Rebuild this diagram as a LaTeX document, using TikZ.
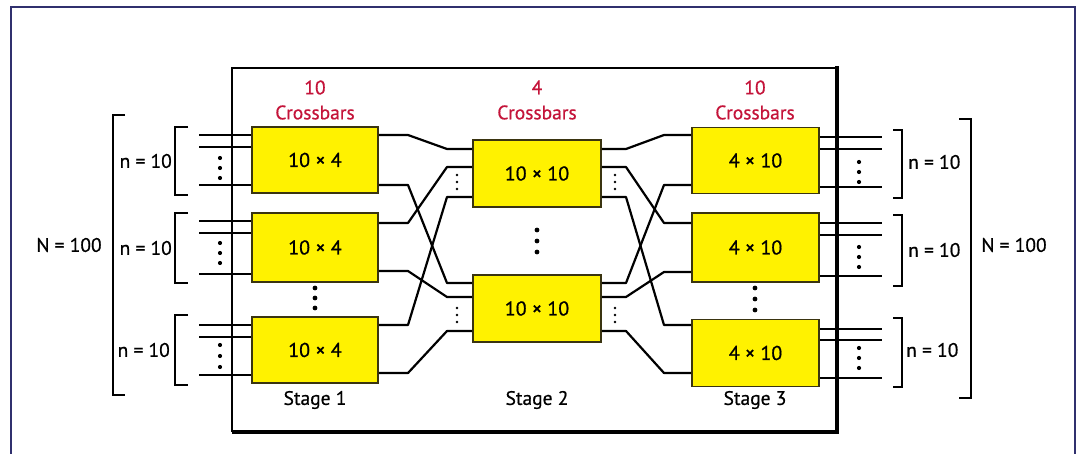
\documentclass[tikz,border=0pt]{standalone}
\usepackage{fontspec}
\setmainfont[FakeBold=0.7]{PT Sans}
\definecolor{xbyellow}{HTML}{FFF200}
\definecolor{xbedge}{HTML}{3A3410}
\definecolor{xbred}{HTML}{C4143A}
\definecolor{framenavy}{HTML}{30306E}
\begin{document}
\begin{tikzpicture}[x=1pt,y=-1pt,
  xbar/.style={draw=xbedge, line width=1.6pt, fill=xbyellow, minimum width=126pt, minimum height=66pt, inner sep=0pt, font=\fontsize{20}{22}\selectfont},
  lbl/.style={font=\fontsize{19.5}{22}\selectfont, inner sep=0pt},
  redlbl/.style={font=\fontsize{19.5}{25}\selectfont, text=xbred, align=center, inner sep=0pt},
  wire/.style={line width=2.2pt, line join=round},
  port/.style={line width=2.8pt},
  brk/.style={line width=1.9pt}
]
\useasboundingbox (0,0) rectangle (1080,454);
% outer frame
\draw[framenavy, line width=2.4pt] (11,454) -- (11,7) -- (1075,7) -- (1075,454);
% inner panel
\draw[line width=1.6pt] (232,432) -- (232,68) -- (837,68);
\draw[line width=2.4pt] (232,68) -- (837,68);
\draw[line width=4.5pt] (232,432) -- (837,432) -- (837,66);

% crossbar boxes
\node[xbar] (s1a) at (315,160) {10 × 4};
\node[xbar, minimum height=69pt] (s1b) at (315,247.5) {10 × 4};
\node[xbar] (s1c) at (315,350) {10 × 4};
\node[xbar, minimum width=128pt, minimum height=67pt] (s2a) at (537,173.5) {10 × 10};
\node[xbar, minimum width=128pt, minimum height=67pt] (s2b) at (537,308.5) {10 × 10};
\node[xbar, minimum width=127pt] (s3a) at (755.5,160.5) {4 × 10};
\node[xbar, minimum width=127pt, minimum height=69pt] (s3b) at (755.5,247.5) {4 × 10};
\node[xbar, minimum width=127pt, minimum height=67pt] (s3c) at (755.5,353) {4 × 10};

% headings
\node[redlbl] (h1) at (315,100) {10\\Crossbars};
\node[redlbl] (h2) at (537,100) {4\\Crossbars};
\node[redlbl] (h3) at (755,100) {10\\Crossbars};
\node[lbl] (st1) at (315,400) {Stage 1};
\node[lbl] (st2) at (537,400) {Stage 2};
\node[lbl] (st3) at (755,400) {Stage 3};

% input ports of stage 1
\foreach \b/\ya/\yb/\yc in {s1a/135/147/185, s1b/221/233/274, s1c/325/337/375} {
  \foreach \y in {\ya,\yb,\yc} {
    \coordinate (in-\b-\y) at (199,\y);
    \draw[port] (in-\b-\y) -- (\b.west |- in-\b-\y);
  }
}
% output ports of stage 3
\foreach \b/\ya/\yb/\yc in {s3a/137/149/187, s3b/223/235/276, s3c/329/340/378} {
  \foreach \y in {\ya,\yb,\yc} {
    \coordinate (out-\b-\y) at (882,\y);
    \draw[port] (\b.east |- out-\b-\y) -- (out-\b-\y);
  }
}
% dots at ports
\foreach \y in {158,168,178, 243,253,263, 345,356,367} \fill (220,\y) circle (2.1pt);
\foreach \y in {162,172,182, 247,257,267, 348,358,368} \fill (859,\y) circle (2.1pt);
\foreach \y in {175,182,189, 308,315,322} { \fill (457,\y) circle (1.4pt); \fill (615,\y) circle (1.4pt); }
% dots between boxes
\foreach \y in {288,298,308} \fill (315,\y) circle (2.4pt);
\foreach \y in {230,241,252} \fill (537,\y) circle (2.4pt);
\foreach \y in {288,299,310} \fill (755,\y) circle (2.4pt);

% stage 1 -> stage 2
\foreach \fb/\fy/\tb/\ty in {s1a/135/s2a/149, s1a/185/s2b/283, s1b/223/s2a/167, s1b/271/s2b/297, s1c/325/s2a/197, s1c/373/s2b/331} {
  \draw[wire] (\fb.east |- 0,\fy) -- (408,\fy) -- (447,\ty) -- (\tb.west |- 0,\ty);
}
% stage 2 -> stage 3
\foreach \fb/\fy/\tb/\ty in {s2a/149/s3a/135, s2a/167/s3b/223, s2a/197/s3c/325, s2b/283/s3a/185, s2b/297/s3b/272, s2b/331/s3c/373} {
  \draw[wire] (\fb.east |- 0,\fy) -- (626,\fy) -- (664,\ty) -- (\tb.west |- 0,\ty);
}

% left brackets
\foreach \t/\bt in {127/195, 213/283, 315/385} \draw[brk] (188,\t) -- (175,\t) -- (175,\bt) -- (188,\bt);
\node[lbl, anchor=east] (nl1) at (172,161) {n = 10};
\node[lbl, anchor=east] (nl2) at (172,248) {n = 10};
\node[lbl, anchor=east] (nl3) at (170,350) {n = 10};
\draw[brk] (125,115) -- (113,115) -- (113,395) -- (125,395);
\node[lbl] (NL) at (69,245) {N = 100};
% right brackets
\foreach \t/\bt in {130/198, 215/286, 318/387} \draw[brk] (893,\t) -- (902,\t) -- (902,\bt) -- (893,\bt);
\node[lbl, anchor=west] (nr1) at (908,162) {n = 10};
\node[lbl, anchor=west] (nr2) at (908,250) {n = 10};
\node[lbl, anchor=west] (nr3) at (906,350) {n = 10};
\draw[brk] (959,119) -- (971,119) -- (971,398) -- (959,398);
\node[lbl] (NR) at (1014,245) {N = 100};
\end{tikzpicture}
\end{document}
